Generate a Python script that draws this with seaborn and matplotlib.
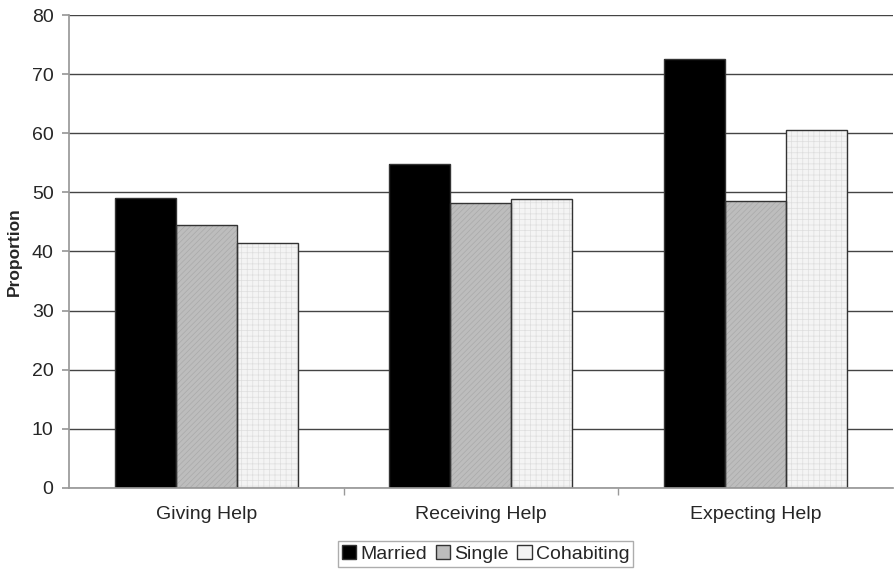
import matplotlib
matplotlib.use("Agg")
import matplotlib.pyplot as plt
import seaborn as sns
import pandas as pd
from matplotlib.patches import Patch, Rectangle

categories = ["Giving Help", "Receiving Help", "Expecting Help"]
groups = ["Married", "Single", "Cohabiting"]
married = [49.1, 54.8, 72.6]
single = [44.5, 48.2, 48.5]
cohabiting = [41.4, 48.9, 60.5]

rows = []
for g, vals in zip(groups, [married, single, cohabiting]):
    for c, v in zip(categories, vals):
        rows.append({"Category": c, "Status": g, "Proportion": v})
df = pd.DataFrame(rows)

sns.set_theme(style="white")
plt.rcParams["font.family"] = ["Liberation Sans", "DejaVu Sans"]
plt.rcParams["hatch.linewidth"] = 0.5

fig = plt.figure(figsize=(8.94, 5.69), dpi=100)
ax = fig.add_axes([0.077, 0.1424, 0.922, 0.8312])

face = {"Married": "#000000", "Single": "#bdbdbd", "Cohabiting": "#f4f4f4"}
hatches = {"Married": None, "Single": "//////", "Cohabiting": "+++"}
hatch_col = {"Married": "#333333", "Single": "#a9a9a9", "Cohabiting": "#dedede"}

sns.barplot(data=df, x="Category", y="Proportion", hue="Status", order=categories,
            hue_order=groups, palette=face, width=0.666, ax=ax, legend=False,
            linewidth=0, saturation=1)

for g, cont in zip(groups, ax.containers):
    for p in list(cont):
        if hatches[g]:
            p.set_hatch(hatches[g])
            p.set_edgecolor(hatch_col[g])
            p.set_linewidth(0)
        outline = Rectangle(p.get_xy(), p.get_width(), p.get_height(), fill=False,
                            edgecolor="#333333", linewidth=1.0, zorder=p.get_zorder() + 0.1)
        ax.add_patch(outline)

ax.set_ylim(0, 80)
ax.set_xlim(-0.5, 2.5)
ax.set_yticks(range(0, 81, 10))
ax.yaxis.grid(True, color="#444444", linewidth=1.0)
ax.set_axisbelow(True)
for s in ["top", "right"]:
    ax.spines[s].set_visible(False)
ax.spines["left"].set_color("#999999")
ax.spines["bottom"].set_color("#999999")
ax.tick_params(axis="y", left=True, length=5, color="#999999", labelsize=14, pad=6)
ax.tick_params(axis="x", which="major", length=0, labelsize=14, pad=13)
ax.set_xticks([0.5, 1.5], minor=True)
ax.tick_params(axis="x", which="minor", bottom=True, length=5, color="#999999")
ax.set_xlabel("")
ax.set_ylabel("Proportion", fontsize=12.5, fontweight="bold", labelpad=7)

handles = []
for g in groups:
    h = Patch(facecolor=face[g], edgecolor="#333333", linewidth=1.0)
    handles.append(h)
leg = fig.legend(handles, groups, loc="lower center", bbox_to_anchor=(0.543, 0.004),
                 ncol=3, fontsize=14, frameon=True, fancybox=False,
                 handlelength=0.75, handleheight=0.75, handletextpad=0.2,
                 columnspacing=0.45, borderpad=0.2, borderaxespad=0.0)
leg.get_frame().set_edgecolor("#999999")
leg.get_frame().set_linewidth(1.0)

fig.savefig("out.png", dpi=100)
